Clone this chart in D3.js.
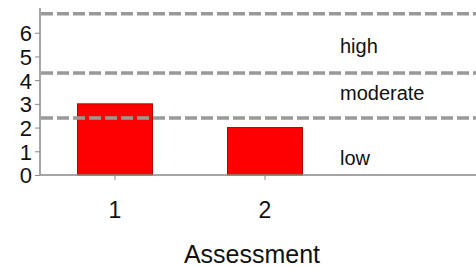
<!DOCTYPE html>
<html><head><meta charset="utf-8">
<script src="https://cdn.jsdelivr.net/npm/d3@7"></script>
<style>body{margin:0;background:#fff}svg{display:block}text{font-family:"Liberation Sans",Arial,sans-serif;fill:#111}</style>
</head><body><svg id="c" width="476" height="267"></svg>
<script>
const categories = ["1", "2"];
const values = [3, 2];
const yTicks = [0, 1, 2, 3, 4, 5, 6];
const thresholds = [2.4, 4.3, 6.8];
const zoneLabels = ["low", "moderate", "high"];
const zoneLabelValues = [0.42, 3.16, 5.15];
const xTitle = "Assessment";

const svg = d3.select("#c");
const mLeft = 40, mRight = 476, mTop = 8, mBottom = 175;
const y = d3.scaleLinear().domain([0, 7]).range([mBottom, mTop + 1]);
const x = d3.scaleBand().domain(categories).range([mLeft, mLeft + 300]).paddingInner(0.5).paddingOuter(0.25);

// bars
svg.selectAll("rect.bar").data(values).join("rect")
  .attr("x", (d, i) => x(categories[i]))
  .attr("y", d => y(d))
  .attr("width", x.bandwidth())
  .attr("height", d => y(0) - y(d))
  .attr("fill", "#ff0000").attr("stroke", "#b00000").attr("stroke-width", 1);

// thresholds
svg.selectAll("line.th").data(thresholds).join("line")
  .attr("x1", mLeft + 1).attr("x2", mRight)
  .attr("y1", d => y(d)).attr("y2", d => y(d))
  .attr("stroke", "#999").attr("stroke-width", 3.5).attr("stroke-dasharray", "12,4");

// zone labels
svg.selectAll("text.zone").data(zoneLabels).join("text")
  .attr("x", 340).attr("y", (d, i) => y(zoneLabelValues[i]))
  .attr("font-size", 20).text(d => d);

// y axis
const yAxis = d3.axisLeft(y).tickValues(yTicks).tickSize(5).tickPadding(3).tickFormat(d3.format("d"));
const ga = svg.append("g").attr("transform", `translate(${mLeft},0)`).call(yAxis);
ga.select(".domain").remove();
ga.selectAll(".tick line").attr("stroke", "#888");
ga.selectAll(".tick text").attr("font-size", 22).attr("dy", "0.36em").style("font-family", '"Liberation Sans",Arial,sans-serif').attr("fill", "#111");
svg.append("line").attr("x1", mLeft).attr("x2", mLeft).attr("y1", mTop).attr("y2", mBottom).attr("stroke", "#888").attr("stroke-width", 1.5);

// x axis
const xAxis = d3.axisBottom(x).tickSize(5).tickPadding(22);
const gx = svg.append("g").attr("transform", `translate(0,${mBottom})`).call(xAxis);
gx.select(".domain").remove();
gx.selectAll(".tick line").attr("stroke", "#888");
gx.selectAll(".tick text").attr("font-size", 23).style("font-family", '"Liberation Sans",Arial,sans-serif').attr("fill", "#111");
svg.append("line").attr("x1", mLeft).attr("x2", mRight).attr("y1", mBottom).attr("y2", mBottom).attr("stroke", "#888").attr("stroke-width", 1.5);

svg.append("text").attr("x", 252).attr("y", 263).attr("text-anchor", "middle").attr("font-size", 25).text(xTitle);
</script></body></html>
